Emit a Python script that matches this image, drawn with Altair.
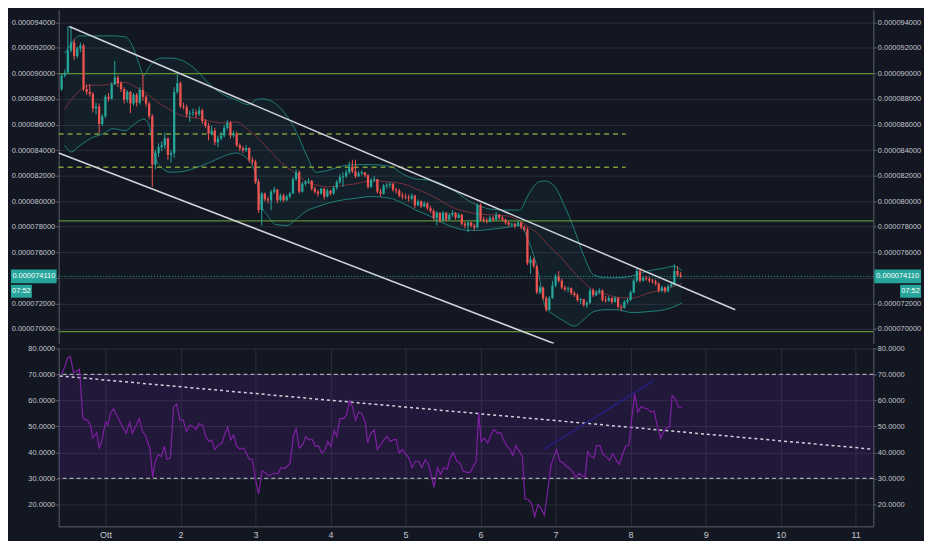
import altair as alt
import pandas as pd

# ---------------- data (prices in satoshi = 1e-8) ----------------
first_open = 8877
close = [8983, 9006, 9180, 9241, 9135, 9195, 9218, 8877, 8855, 8839,
         8726, 8741, 8604, 8665, 8817, 8801, 8915, 8968, 8923, 8877,
         8794, 8855, 8764, 8832, 8771, 8870, 8817, 8764, 8665, 8286,
         8377, 8423, 8438, 8491, 8362, 8377, 8855, 8923, 8741, 8735,
         8680, 8688, 8695, 8680, 8711, 8627, 8589, 8529, 8551, 8461,
         8491, 8514, 8574, 8612, 8514, 8529, 8438, 8415, 8400, 8415,
         8324, 8309, 8150,
         7930, 8059, 8014, 8006, 8074, 8089, 8006, 8044, 8006, 8036,
         8059, 8173, 8226, 8074, 8135, 8150, 8158, 8097, 8074, 8059,
         8097, 8036, 8082, 8059, 8105, 8150, 8188,
         8195, 8226, 8271, 8233, 8195, 8218, 8226, 8203, 8112, 8165,
         8173, 8074, 8059, 8120, 8127, 8135, 8089, 8082, 8044, 8036,
         8029, 8021, 8044, 7968, 7998, 7960, 7983, 7945, 7923, 7870,
         7908, 7847, 7908, 7855, 7893, 7908, 7870, 7893, 7824, 7809,
         7832, 7809, 7794, 7968, 7855, 7847, 7840, 7870, 7855, 7893,
         7870, 7855, 7832, 7817, 7822, 7809, 7832, 7794, 7779,
         7514, 7544, 7491, 7286, 7324, 7241, 7150, 7241, 7339, 7408,
         7377, 7324, 7309, 7317, 7279, 7264, 7226, 7233, 7188, 7203,
         7301, 7264, 7286, 7301, 7226, 7220, 7241, 7211, 7241, 7173,
         7165, 7211, 7226, 7286, 7377, 7453, 7377, 7400, 7392, 7377,
         7370, 7355, 7301, 7324, 7294, 7332, 7347, 7453, 7423, 7411]
high = [8998, 9029, 9370, 9370, 9271, 9211, 9241, 9233, 8915, 8915,
        8855, 8771, 8764, 8680, 8832, 8847, 8930, 9097, 8983, 8938,
        8892, 8870, 8862, 8847, 8847, 8892, 8991, 8832, 8779, 8680,
        8400, 8453, 8468, 8536, 8498, 8400, 8892, 8991, 8938, 8771,
        8756, 8711, 8726, 8718, 8741, 8726, 8642, 8612, 8589, 8574,
        8514, 8544, 8597, 8635, 8627, 8551, 8544, 8453, 8430, 8438,
        8423, 8347, 8324,
        8173, 8074, 8067, 8036, 8089, 8112, 8097, 8059, 8059, 8051,
        8074, 8188, 8249, 8241, 8150, 8165, 8180, 8165, 8112, 8089,
        8105, 8105, 8097, 8089, 8120, 8165, 8211,
        8226, 8249, 8309, 8324, 8324, 8233, 8241, 8226, 8211, 8180,
        8195, 8173, 8097, 8135, 8143, 8150, 8143, 8105, 8097, 8067,
        8059, 8051, 8059, 8051, 8014, 8006, 7998, 7991, 7960, 7938,
        7923, 7915, 7923, 7915, 7908, 7930, 7915, 7908, 7900, 7840,
        7847, 7840, 7824, 7983, 7983, 7878, 7870, 7885, 7885, 7915,
        7900, 7885, 7863, 7840, 7832, 7832, 7847, 7840, 7809,
        7794, 7574, 7559, 7499, 7339, 7332, 7256, 7256, 7377, 7430,
        7453, 7392, 7339, 7332, 7324, 7294, 7279, 7241, 7234, 7218,
        7317, 7317, 7301, 7317, 7309, 7256, 7256, 7249, 7256, 7249,
        7188, 7226, 7241, 7301, 7392, 7476, 7476, 7415, 7415, 7408,
        7392, 7385, 7362, 7339, 7332, 7347, 7362, 7506, 7491, 7445]
low = [8862, 8968, 8998, 9165, 9105, 9120, 9165, 8862, 8832, 8817,
       8695, 8680, 8529, 8589, 8650, 8779, 8794, 8908, 8892, 8855,
       8764, 8771, 8688, 8748, 8741, 8756, 8786, 8741, 8642, 8112,
       8249, 8347, 8392, 8408, 8324, 8302, 8339, 8839, 8726, 8718,
       8658, 8620, 8665, 8650, 8665, 8604, 8574, 8476, 8514, 8438,
       8423, 8476, 8498, 8559, 8491, 8498, 8423, 8392, 8377, 8385,
       8302, 8286, 8135,
       7908, 7809, 7998, 7983, 7930, 8059, 7983, 7998, 7991, 7998,
       8021, 8059, 8158, 8059, 8067, 8120, 8135, 8082, 8059, 8036,
       8051, 8014, 8029, 8044, 8051, 8089, 8135,
       8112, 8180, 8211, 8218, 8180, 8188, 8203, 8188, 8097, 8105,
       8150, 8059, 8036, 8051, 8097, 8105, 8074, 8059, 8029, 8014,
       8014, 7998, 8006, 7945, 7960, 7945, 7953, 7930, 7908, 7847,
       7809, 7832, 7840, 7840, 7847, 7878, 7855, 7863, 7809, 7786,
       7756, 7794, 7771, 7786, 7840, 7832, 7825, 7832, 7840, 7847,
       7855, 7840, 7817, 7801, 7801, 7786, 7801, 7779, 7764,
       7499, 7430, 7476, 7271, 7271, 7226, 7135, 7143, 7234, 7324,
       7362, 7309, 7294, 7286, 7264, 7249, 7211, 7196, 7173, 7165,
       7196, 7249, 7256, 7271, 7211, 7205, 7211, 7196, 7203, 7158,
       7143, 7158, 7196, 7218, 7279, 7362, 7362, 7370, 7377, 7362,
       7355, 7339, 7286, 7286, 7279, 7286, 7324, 7339, 7408, 7400]
first_hour = 10   # first candle: 30 Sep 10:00 (hours counted from 30 Sep 00:00)

# Bollinger bands (hours since 30 Sep 00:00)
bb_h = [10.9, 13.1, 15.6, 19.3, 23.3, 26.4, 30.4, 32.6, 34.7, 36.3,
        37.8, 39.7, 41.9, 45.0, 49.0, 53.3, 57.3, 61.4, 65.7, 69.7,
        72.2, 73.7, 75.9, 78.4, 82.1, 85.2, 88.3, 91.4, 95.1, 99.1,
        103.8, 109.0, 115.2, 119.2, 123.3, 127.6, 131.6, 135.6, 140.0, 143.1,
        147.1, 152.3, 156.4, 159.5, 162.6, 164.7, 167.8, 170.9, 174.0, 177.1,
        180.2, 184.2, 187.3, 192.6, 197.5, 202.8, 205.9, 208.4]
bb_upper = [9157, 9233, 9294, 9294, 9294, 9294, 9286, 9218, 9082, 8983,
            9044, 9097, 9120, 9120, 9097, 9021, 8915, 8839, 8794, 8756,
            8794, 8801, 8794, 8764, 8665, 8536, 8362, 8226, 8241, 8271,
            8286, 8286, 8271, 8211, 8173, 8165, 8135, 8082, 8006, 7968,
            7938, 7930, 7930, 8059, 8150, 8158, 8112, 7961, 7779, 7567,
            7423, 7400, 7400, 7415, 7453, 7476, 7491, 7453]
bb_lower = [8438, 8385, 8430, 8491, 8529, 8567, 8551, 8589, 8627, 8642,
            8604, 8362, 8264, 8226, 8233, 8264, 8302, 8347, 8377, 8324,
            8195, 7983, 7885, 7817, 7809, 7862, 7923, 7953, 7983, 8006,
            8021, 8036, 8021, 7983, 7930, 7885, 7832, 7794, 7771, 7771,
            7779, 7794, 7809, 7680, 7430, 7173, 7104, 7059, 7021, 7074,
            7135, 7150, 7150, 7127, 7135, 7150, 7173, 7203]
bb_mid = [8718, 8794, 8862, 8908, 8908, 8923, 8930, 8908, 8877, 8855,
          8832, 8794, 8756, 8711, 8665, 8650, 8627, 8612, 8620, 8559,
          8506, 8468, 8415, 8347, 8264, 8211, 8150, 8127, 8112, 8120,
          8135, 8158, 8150, 8135, 8097, 8052, 7998, 7945, 7915, 7900,
          7893, 7885, 7847, 7794, 7741, 7680, 7605, 7529, 7438, 7362,
          7301, 7271, 7249, 7241, 7279, 7309, 7332, 7355]

# RSI
rsi_h = [9.9, 10.9, 11.9, 12.8, 13.8, 14.8, 15.7, 16.8, 17.8, 18.7,
         19.4, 19.9, 20.7, 21.2, 22.0, 22.8, 23.5, 24.1, 24.8, 25.6,
         26.6, 27.6, 28.7, 29.7, 30.7, 31.8, 32.6, 33.6, 34.8, 35.9,
         36.7, 37.5, 38.3, 39.1, 39.8, 40.8, 41.9, 42.9, 43.7, 44.8,
         45.8, 46.8, 47.8, 48.9, 49.9, 51.1, 52.2, 53.0, 54.0, 55.1,
         56.1, 57.1, 58.0, 59.0, 60.2, 61.3, 62.1, 63.1, 64.1, 65.0,
         66.0, 67.0, 68.1, 69.1, 69.9, 71.0, 72.0, 73.0, 74.1, 75.1,
         76.1, 77.1, 78.2, 79.2, 80.2, 81.3, 82.3, 83.1, 84.2, 85.0,
         86.0, 87.1, 88.1, 89.1, 90.1, 91.2, 92.2, 93.2, 94.3, 95.1,
         96.1, 97.2, 98.0, 99.0, 100.1, 101.1, 102.1, 103.1, 104.0, 105.0,
         106.0, 107.1, 107.9, 108.9, 110.0, 111.0, 112.0, 113.1, 114.1, 115.1,
         116.1, 117.0, 118.0, 119.0, 120.1, 121.1, 122.1, 123.2, 124.2, 125.2,
         126.3, 127.3, 128.3, 129.1, 130.2, 131.2, 132.2, 133.3, 134.3, 135.3,
         136.4, 137.4, 138.4, 139.5, 140.7, 141.7, 142.6, 143.4, 144.2, 145.2,
         146.3, 147.3, 148.3, 149.4, 150.4, 151.4, 152.5, 153.5, 154.3, 155.3,
         156.4, 157.4, 158.2, 159.3, 160.3, 161.3, 162.4, 163.4, 164.4, 165.5,
         166.5, 167.5, 168.3, 169.4, 170.4, 171.4, 172.5, 173.5, 174.5, 175.6,
         176.6, 177.4, 178.3, 179.3, 180.3, 181.1, 182.2, 183.2, 184.2, 185.3,
         186.3, 187.3, 188.4, 189.4, 190.4, 191.5, 192.3, 193.3, 194.3, 195.4,
         196.4, 197.4, 198.5, 199.5, 200.5, 201.6, 202.6, 203.6, 204.5, 205.3,
         206.3, 207.3, 208.4]
rsi_v = [70.0, 72.5, 76.3, 76.9, 70.6, 71.2, 71.9, 53.0, 52.6, 51.7,
         49.8, 45.5, 46.7, 47.6, 41.7, 44.2, 48.6, 51.7, 50.5, 54.9,
         56.8, 54.3, 51.7, 49.2, 47.4, 51.7, 47.4, 49.8, 53.0, 48.0,
         46.7, 44.2, 41.1, 30.4, 36.0, 39.2, 38.5, 42.3, 37.3, 37.9,
         57.4, 58.7, 52.4, 52.4, 48.0, 50.5, 49.8, 48.9, 51.1, 50.5,
         46.1, 44.2, 44.8, 41.1, 42.9, 43.6, 46.7, 49.8, 44.8, 46.7,
         42.3, 41.3, 41.7, 39.8, 37.5, 37.3, 29.7, 24.1, 32.9, 32.3,
         31.0, 31.6, 32.0, 31.9, 34.2, 33.8, 34.8, 36.0, 46.7, 49.2,
         41.7, 42.9, 46.1, 44.8, 45.1, 42.3, 42.6, 39.8, 41.1, 44.2,
         42.3, 48.6, 46.1, 53.0, 53.0, 54.3, 59.9, 57.4, 52.4, 55.5,
         54.9, 51.7, 43.6, 47.4, 48.6, 41.1, 42.9, 44.8, 46.1, 44.2,
         44.8, 45.1, 39.8, 41.1, 39.2, 37.9, 34.2, 36.6, 36.6, 34.2,
         37.3, 35.4, 31.0, 26.6, 34.2, 31.6, 34.2, 33.5, 37.9, 40.0,
         36.6, 36.0, 32.9, 32.3, 32.3, 34.8, 36.6, 55.5, 44.2, 45.5,
         43.6, 46.7, 48.9, 47.4, 47.6, 44.8, 42.3, 41.1, 38.8, 42.6,
         40.4, 38.5, 22.2, 21.9, 20.3, 15.3, 20.0, 18.4, 15.9, 25.3,
         34.8, 38.5, 41.1, 36.6, 36.0, 34.8, 33.8, 32.5, 30.4, 32.0,
         31.0, 30.4, 40.4, 38.5, 37.9, 42.6, 42.6, 39.2, 38.3, 37.0,
         39.5, 37.3, 35.4, 39.2, 42.3, 42.9, 52.4, 62.5, 55.5, 57.7,
         57.0, 56.8, 55.5, 55.9, 50.5, 45.5, 48.0, 49.6, 49.8, 61.8,
         60.6, 57.4, 57.4]

# levels and drawings
green_levels = [8998, 7845, 6978]
dashed_levels = [8526, 8266]
dashed_from, dashed_to = 9.05, 190.4
last_price = 7411
last_label = "0.000074110"
timer_label = "07:52"
channel = {"h": [12.45, 9.05], "p": [9367, 8377], "h2": [225.5, 167.5], "p2": [7150, 6885]}
rsi_levels = [70, 30]
rsi_trend = {"h": [9.4], "v": [69.4], "h2": [269.0], "v2": [41.3]}
rsi_blue = {"h": [164.4], "v": [41.3], "h2": [199.3], "v2": [67.5]}

price_ticks = [7000, 7200, 7400, 7600, 7800, 8000, 8200, 8400, 8600, 8800, 9000, 9200, 9400]
rsi_ticks = [20, 30, 40, 50, 60, 70, 80]
day_ticks = [24, 48, 72, 96, 120, 144, 168, 192, 216, 240, 264]

# ---------------- style ----------------
W, H1, H2 = 820, 336, 180
BG = "#131722"
GRID = "#2a2e39"
AXC = "#5d606b"
LAB = "#c3c6ce"
FONT = "Liberation Sans"
FS = 7.5
UP, DN = "#26a69a", "#ef5350"
EXT = 48  # width of the price-axis strips

xs = alt.Scale(domain=[9.05, 269.65], nice=False, zero=False)
ys = alt.Scale(domain=[6885, 9498.5], nice=False, zero=False)
rs = alt.Scale(domain=[11.6, 80.3], nice=False, zero=False)


def yaxis(orient, values, expr, grid):
    return alt.Axis(orient=orient, values=values, labelExpr=expr, grid=grid, gridColor=GRID,
                    domainColor=AXC, tickColor=AXC, tickSize=3, labelColor=LAB, labelFont=FONT,
                    labelFontSize=FS, labelPadding=1, minExtent=EXT, maxExtent=EXT, title=None)


PEXPR = "datum.value == 7400 ? '' : format(datum.value / 100000000, '.9f')"
REXPR = "format(datum.value, '.4f')"

# ---------------- tables ----------------
n = len(close)
opens = [first_open] + close[:-1]
candles = pd.DataFrame({
    "h": [first_hour + i for i in range(n)],
    "open": opens, "close": close, "high": high, "low": low,
})
candles["dir"] = ["up" if c >= o else "down" for o, c in zip(opens, close)]
bb = pd.DataFrame({"h": bb_h, "upper": bb_upper, "lower": bb_lower, "mid": bb_mid})
rsi = pd.DataFrame({"h": rsi_h, "v": rsi_v})

Xn = alt.X("h:Q", scale=xs, axis=None)
col = alt.Color("dir:N", scale=alt.Scale(domain=["up", "down"], range=[UP, DN]), legend=None)

# ---------------- main panel ----------------
bb_fill = alt.Chart(bb).mark_area(color=UP, opacity=0.06, interpolate="monotone").encode(
    x=alt.X("h:Q", scale=xs, axis=alt.Axis(values=day_ticks, grid=True, gridColor=GRID, labels=False,
                                           ticks=False, domainColor="#4c505b", domainWidth=2, title=None)),
    y=alt.Y("upper:Q", scale=ys, axis=yaxis("left", price_ticks, PEXPR, True)),
    y2="lower:Q")
bb_up = alt.Chart(bb).mark_line(color="#1f7f79", strokeWidth=1, interpolate="monotone").encode(
    x=Xn, y=alt.Y("upper:Q", scale=ys, axis=None))
bb_lo = alt.Chart(bb).mark_line(color="#1f7f79", strokeWidth=1, interpolate="monotone").encode(
    x=Xn, y=alt.Y("lower:Q", scale=ys, axis=None))
bb_md = alt.Chart(bb).mark_line(color="#7c2f3b", strokeWidth=1, interpolate="monotone").encode(
    x=Xn, y=alt.Y("mid:Q", scale=ys, axis=yaxis("right", price_ticks, PEXPR, False)))

greens = alt.Chart(pd.DataFrame({"p": green_levels})).mark_rule(color="#5c9030", strokeWidth=1.3).encode(
    y=alt.Y("p:Q", scale=ys, axis=None))
dashed = alt.Chart(pd.DataFrame({"p": dashed_levels, "h": [dashed_from] * 2, "h2": [dashed_to] * 2})).mark_rule(
    color="#7c9a3a", strokeWidth=1.5, strokeDash=[5, 4]).encode(
    x=Xn, x2="h2:Q", y=alt.Y("p:Q", scale=ys, axis=None))
wicks = alt.Chart(candles).mark_rule(strokeWidth=1).encode(
    x=Xn, y=alt.Y("low:Q", scale=ys, axis=None), y2="high:Q", color=col)
bodies = alt.Chart(candles).mark_rule(strokeWidth=2.3).encode(
    x=Xn, y=alt.Y("open:Q", scale=ys, axis=None), y2="close:Q", color=col)
chan = alt.Chart(pd.DataFrame(channel)).mark_rule(color="#d1d4dc", strokeWidth=1.5, clip=True).encode(
    x=Xn, x2="h2:Q", y=alt.Y("p:Q", scale=ys, axis=None), y2="p2:Q")
lp = pd.DataFrame({"p": [last_price]})
Yp = alt.Y("p:Q", scale=ys, axis=None)
pline = alt.Chart(lp).mark_rule(color=UP, strokeWidth=1, strokeDash=[1, 2]).encode(y=Yp)


def box(x0, x1, sw, dy=0):
    # square caps: the painted box (and its bounds) spans x0..x1
    h = sw / 2
    return alt.Chart(lp).mark_rule(color=UP, strokeWidth=sw, strokeCap="square", yOffset=dy).encode(
        x=alt.value(x0 + h), x2=alt.value(x1 - h), y=Yp)


def label(xc, txt, dy=0):
    return alt.Chart(lp).mark_text(color="white", font=FONT, fontSize=FS, align="center", baseline="middle",
                                   yOffset=dy).encode(x=alt.value(xc), y=Yp, text=alt.value(txt))


box_r = box(W + 1, W + EXT, 14)
box_l = box(-EXT, -2, 14)
txt_r = label(W + 1 + (EXT - 1) / 2, last_label)
txt_l = label(-(EXT + 2) / 2, last_label)
tbox_r = box(W + EXT - 21, W + EXT, 13, 15)
tbox_l = box(-EXT, -EXT + 21, 13, 15)
ttxt_r = label(W + EXT - 10.5, timer_label, 15)
ttxt_l = label(-EXT + 10.5, timer_label, 15)

main = alt.layer(bb_fill, bb_up, bb_lo, bb_md, greens, dashed, pline, wicks, bodies, chan,
                 box_r, box_l, txt_r, txt_l, tbox_r, tbox_l, ttxt_r, ttxt_l
                 ).resolve_axis(y="independent").properties(width=W, height=H1)

# ---------------- RSI panel ----------------
XR = alt.X("h:Q", scale=xs, axis=alt.Axis(values=day_ticks, grid=True, gridColor=GRID, ticks=False, labels=True,
                                          domainColor=AXC, labelColor=LAB, labelFont=FONT, labelFontSize=9,
                                          labelPadding=4, labelOverlap=False, title=None,
                                          labelExpr="datum.value == 24 ? 'Ott' : format(datum.value / 24, 'd')"))
band = alt.Chart(pd.DataFrame({"a": [30], "b": [70]})).mark_rect(color="#7a22c0", opacity=0.15).encode(
    x=alt.value(0), x2=alt.value(W),
    y=alt.Y("a:Q", scale=rs, axis=yaxis("left", rsi_ticks, REXPR, True)), y2="b:Q")
rlev = alt.Chart(pd.DataFrame({"v": rsi_levels})).mark_rule(color="#a3a6af", strokeWidth=1.2,
                                                             strokeDash=[4, 3]).encode(
    y=alt.Y("v:Q", scale=rs, axis=yaxis("right", rsi_ticks, REXPR, False)))
rtr = alt.Chart(pd.DataFrame(rsi_trend)).mark_rule(color="#d1d4dc", strokeWidth=1.5, strokeDash=[3, 3]).encode(
    x=XR, x2="h2:Q", y=alt.Y("v:Q", scale=rs, axis=None), y2="v2:Q")
rbl = alt.Chart(pd.DataFrame(rsi_blue)).mark_rule(color="#24208c", strokeWidth=1.3).encode(
    x=XR, x2="h2:Q", y=alt.Y("v:Q", scale=rs, axis=None), y2="v2:Q")
rline = alt.Chart(rsi).mark_line(color="#7f1fa3", strokeWidth=1.2).encode(
    x=XR, y=alt.Y("v:Q", scale=rs, axis=None))

rsi_panel = alt.layer(band, rlev, rtr, rbl, rline).resolve_axis(y="independent").properties(width=W, height=H2)

chart = (alt.vconcat(main, rsi_panel, spacing=0)
         .resolve_scale(x="independent").resolve_axis(x="independent")
         .properties(background=BG, padding=0)
         .configure_view(stroke=None))

chart.save("out.html", embed_options={"renderer": "svg", "actions": False})
